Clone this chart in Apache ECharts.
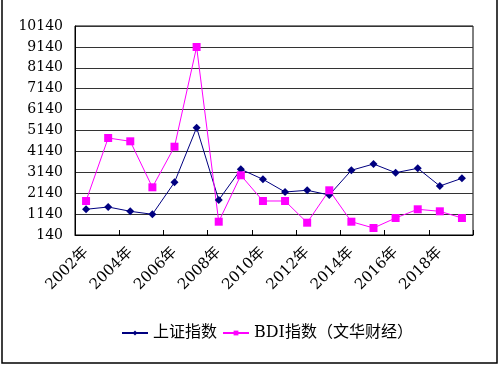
<!DOCTYPE html>
<html><head><meta charset="utf-8">
<script src="https://cdn.jsdelivr.net/npm/echarts@6/dist/echarts.min.js"></script>
<style>html,body{margin:0;padding:0;background:#fff}#c{width:500px;height:366px}</style>
</head><body><div id="c"></div>
<script>
const categories = ['2002年','2003年','2004年','2005年','2006年','2007年','2008年','2009年','2010年','2011年','2012年','2013年','2014年','2015年','2016年','2017年','2018年','2019年'];
const shIndex = [1370,1480,1274,1130,2662,5274,1815,3284,2805,2198,2279,2054,3236,3537,3121,3331,2485,2853];
const bdiIndex = [1767,4781,4623,2422,4365,9136,776,2997,1767,1767,729,2279,776,475,953,1370,1274,953];
const seriesNames = ['上证指数','BDI指数（文华财经）'];
const yMin = 140, yMax = 10140, yStep = 1000;

const serif = "'DejaVu Serif','Noto Sans CJK SC',serif";
const chart = echarts.init(document.getElementById('c'), null, {renderer:'canvas'});
chart.setOption({
  animation:false,
  backgroundColor:'#fff',
  graphic:[{type:'rect',shape:{x:2,y:-2,width:495,height:365},style:{fill:'none',stroke:'#000',lineWidth:1.5}}],
  grid:{left:75,right:27,top:26,bottom:131,show:true,borderColor:'#000',borderWidth:1},
  legend:{
    data:seriesNames,
    left:116, top:320, itemWidth:26, itemHeight:6, itemGap:5,
    textStyle:{fontFamily:serif,fontSize:16,color:'#000'}
  },
  xAxis:{
    type:'category', data:categories, boundaryGap:true,
    axisLine:{lineStyle:{color:'#000',width:1}},
    axisTick:{show:true,inside:true,length:5,lineStyle:{color:'#000'}},
    axisLabel:{interval:1,rotate:45,margin:15,fontFamily:serif,fontSize:15,color:'#000'}
  },
  yAxis:{
    type:'value', min:yMin, max:yMax, interval:yStep,
    axisLine:{show:true,lineStyle:{color:'#000'}},
    axisTick:{show:false},
    splitLine:{lineStyle:{color:'#333',width:1}},
    axisLabel:{formatter:v=>String(v),margin:12,fontFamily:serif,fontSize:14,color:'#000'}
  },
  series:[
    {name:seriesNames[0],type:'line',data:shIndex,symbol:'diamond',symbolSize:8,
     lineStyle:{color:'#000080',width:1},itemStyle:{color:'#000080'}},
    {name:seriesNames[1],type:'line',data:bdiIndex,symbol:'rect',symbolSize:8,
     lineStyle:{color:'#FF00FF',width:1},itemStyle:{color:'#FF00FF'}}
  ]
});
</script></body></html>
